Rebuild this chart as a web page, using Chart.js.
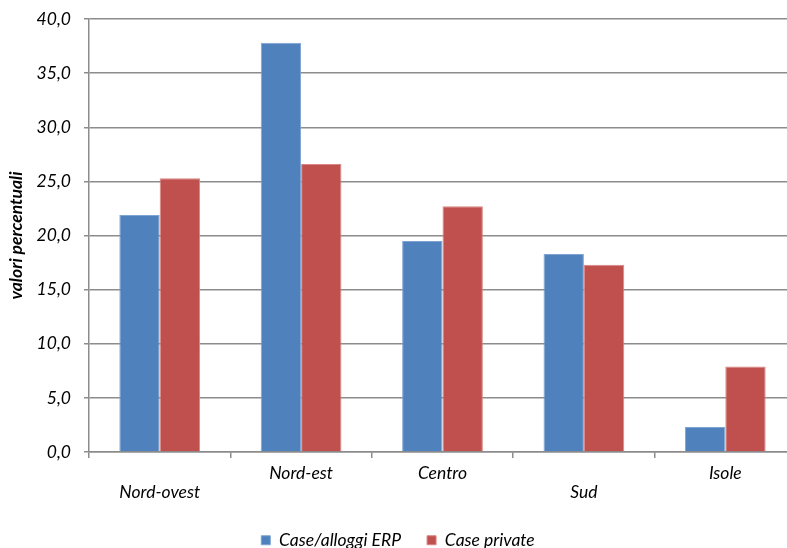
<!DOCTYPE html>
<html>
<head>
<meta charset="utf-8">
<script src="https://cdn.jsdelivr.net/npm/chart.js@4"></script>
<style>
    html, body { margin: 0; padding: 0; background: #fff; overflow: hidden; }
    #wrap { width: 800px; height: 548px; }
</style>
</head>
<body>
<div id="wrap"><canvas id="erpChart"></canvas></div>
<script>
// Ripartizioni territoriali; le etichette sfalsate vanno su due righe
const areas = [['', 'Nord-ovest'], ['Nord-est'], ['Centro'], ['', 'Sud'], ['Isole']];
const erpValues = [21.9, 37.8, 19.5, 18.3, 2.3];
const privateValues = [25.3, 26.6, 22.7, 17.3, 7.9];
const yTicks = [0, 5, 10, 15, 20, 25, 30, 35, 40];

const FONT = 'Lato, "Open Sans", sans-serif';
const GRID = '#8c8c8c';

const fmt = (v) => v.toFixed(1).replace('.', ',');

new Chart(document.getElementById('erpChart').getContext('2d'), {
    type: 'bar',
    data: {
        labels: areas,
        datasets: [
            { label: 'Case/alloggi ERP', data: erpValues, backgroundColor: '#4f81bd', borderColor: '#7ea4d3', borderWidth: 1, barPercentage: 1, categoryPercentage: 0.571 },
            { label: 'Case private', data: privateValues, backgroundColor: '#c0504d', borderColor: '#d98683', borderWidth: 1, barPercentage: 1, categoryPercentage: 0.571 }
        ]
    },
    options: {
        responsive: true,
        maintainAspectRatio: false,
        animation: false,
        // il fondo negativo spinge la legenda verso il bordo inferiore
        layout: { padding: { top: 19, right: 4, left: 0, bottom: -11 } },
        plugins: {
            tooltip: { enabled: false },
            legend: {
                position: 'bottom',
                labels: {
                    boxWidth: 9, boxHeight: 9, padding: 26,
                    color: '#000',
                    font: { family: FONT, size: 17.5, style: 'italic' }
                }
            }
        },
        scales: {
            x: {
                grid: { display: true, drawOnChartArea: false, drawTicks: true, tickLength: 6, color: GRID, lineWidth: 1.5 },
                border: { display: true, color: GRID, width: 1.5 },
                ticks: {
                    color: '#000', padding: 6, maxRotation: 0, autoSkip: false,
                    font: { family: FONT, size: 17.5, style: 'italic', lineHeight: '19px' }
                },
                afterFit: (scale) => { scale.height = 53.5; }
            },
            y: {
                min: 0,
                max: 40,
                afterBuildTicks: (scale) => { scale.ticks = yTicks.map((v) => ({ value: v })); },
                grid: { color: GRID, lineWidth: 1.5, tickLength: 5 },
                border: { display: true, color: GRID, width: 1.5 },
                ticks: {
                    color: '#000', padding: 13,
                    font: { family: FONT, size: 17.5, style: 'italic' },
                    callback: (v) => fmt(v)
                },
                title: {
                    display: true,
                    text: 'valori percentuali',
                    color: '#000',
                    padding: { top: 6, bottom: 0 },
                    font: { family: FONT, size: 17.5, style: 'italic', weight: 'bold' }
                },
                // larghezza fissa e niente margine extra per l'etichetta in cima
                afterFit: (scale) => {
                    scale.width = 89;
                    scale.paddingTop = 0;
                    scale.paddingBottom = 0;
                }
            }
        }
    }
});
</script>
</body>
</html>
